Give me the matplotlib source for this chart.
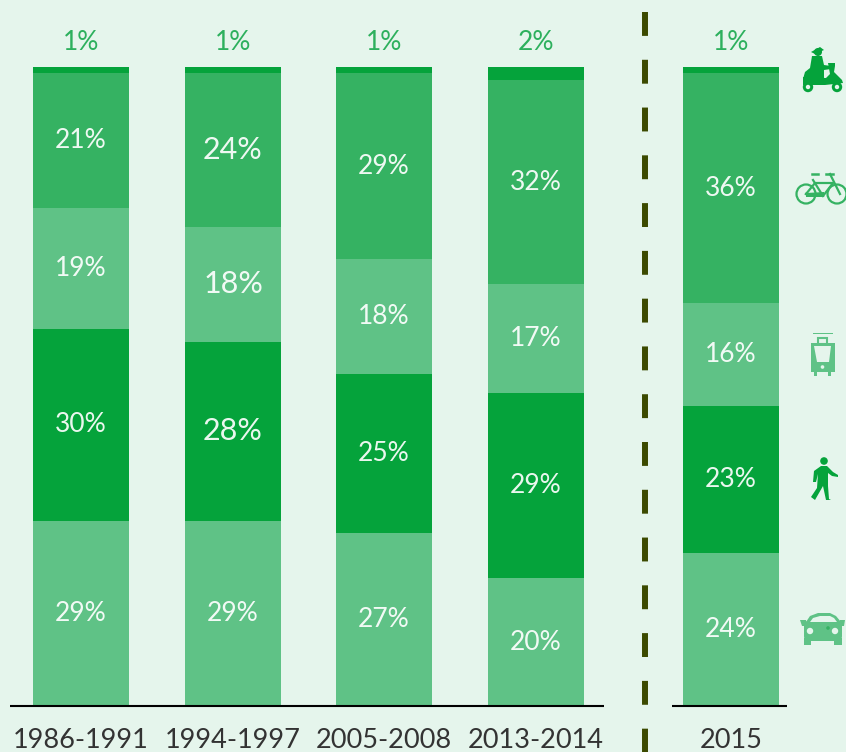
#!/usr/bin/env python3
import matplotlib
matplotlib.use("Agg")
import matplotlib.pyplot as plt
from matplotlib.patches import Circle, Polygon, Rectangle, FancyBboxPatch

periods = ["1986-1991", "1994-1997", "2005-2008", "2013-2014", "2015"]
car = [29, 29, 27, 20, 24]
walk = [30, 28, 25, 29, 23]
transit = [19, 18, 18, 17, 16]
bike = [21, 24, 29, 32, 36]
moto = [1, 1, 1, 2, 1]

series = [car, walk, transit, bike, moto]
colors = ["#5FC286", "#05A33B", "#5FC286", "#35B262", "#05A33B"]
BG = "#E5F5EC"
W, H = 846, 752
centers = [81, 233, 384, 536, 731]

plt.rcParams["font.family"] = ["Lato", "DejaVu Sans"]
fig = plt.figure(figsize=(W / 100, H / 100), dpi=100, facecolor=BG)

# bars: 0-100 maps onto pixel rows 706-67
ax = fig.add_axes([0, (H - 706) / H, 1, 639 / H])
ax.set_xlim(0, W)
ax.set_ylim(0, 100)
ax.axis("off")

bottom = [0] * len(periods)
for vals, col in zip(series, colors):
    ax.bar(centers, vals, width=96, bottom=bottom, color=col, linewidth=0)
    if vals is not moto:
        for i, (x, b, v) in enumerate(zip(centers, bottom, vals)):
            # second column is set larger, except its bottom label
            fs = 22 if i == 1 and vals is not car else 19
            ax.annotate(f"{v}%", (x, b + v / 2), xytext=(0, 0), textcoords="offset pixels",
                        ha="center", va="center", color="white", alpha=0.92, fontsize=fs)
    bottom = [b + v for b, v in zip(bottom, vals)]

for x, v in zip(centers, moto):
    ax.annotate(f"{v}%", (x, 100), xytext=(0, 25), textcoords="offset pixels",
                ha="center", va="center", color="#2DB05D", fontsize=19)

# overlay in image pixels for rules and icons
ov = fig.add_axes([0, 0, 1, 1])
ov.set_xlim(0, W)
ov.set_ylim(H, 0)
ov.axis("off")
ov.patch.set_alpha(0)

ov.plot([10, 604], [706, 706], color="black", lw=1.5, solid_capstyle="butt")
ov.plot([672, 787], [706, 706], color="black", lw=1.5, solid_capstyle="butt")
ov.plot([645, 645], [12, 752], color="#3C4A00", lw=4.3, dashes=(4, 4), dash_capstyle="butt")

for x, lab in zip(centers, periods):
    ov.text(x, 741, lab, ha="center", va="center", color="#333333", fontsize=19.5)


def scooter(c):
    ov.add_patch(Circle((818, 52), 4, color=c, lw=0))
    ov.add_patch(Polygon([(811, 52), (820, 47), (824, 50), (815, 54)], color=c, lw=0))
    ov.add_patch(Polygon([(812, 56), (822, 56), (824, 65), (831, 66), (831, 69), (824, 70), (824, 79),
                          (803, 79), (805, 72), (810, 68)], color=c, lw=0))
    ov.add_patch(Polygon([(828, 63), (835, 63), (835, 66), (834, 72), (842, 80), (843, 83), (825, 85),
                          (803, 85), (803, 77), (826, 78), (830, 74)], color=c, lw=0))
    for x in (808, 837):
        ov.add_patch(Circle((x, 87), 5.2, color=c, lw=0))
        ov.add_patch(Circle((x, 87), 2.2, color=BG, lw=0))


def bicycle(c):
    for x in (806, 837):
        ov.add_patch(Circle((x, 194), 9.5, fill=False, ec=c, lw=1.6))
    ov.plot([806, 815, 833, 823, 806], [194, 183, 183, 196, 194], color=c, lw=1.6)
    ov.plot([813, 823], [180, 196], color=c, lw=1.6)
    ov.plot([830, 840], [174, 194], color=c, lw=1.6)
    ov.plot([812, 818], [174, 174], color=c, lw=1.8)
    ov.plot([826, 833], [174, 174], color=c, lw=1.8)
    ov.add_patch(Polygon([(806, 193), (824, 192), (824, 197), (806, 197)], color=c, lw=0))


def tram(c):
    ov.add_patch(Rectangle((813, 332.5), 20, 1.4, color=c, lw=0))
    ov.add_patch(Rectangle((818, 338), 9, 6, fill=False, ec=c, lw=1.5))
    ov.add_patch(Rectangle((811, 343), 23.5, 29, color=c, lw=0))
    ov.add_patch(Rectangle((814, 372), 3, 4, color=c, lw=0))
    ov.add_patch(Rectangle((828, 372), 3, 4, color=c, lw=0))
    ov.add_patch(Polygon([(814, 346), (831, 346), (829, 362), (817, 362)], color=BG, lw=0))
    ov.add_patch(Circle((822.5, 367), 1.8, color=BG, lw=0))


def walker(c):
    ov.add_patch(Circle((824, 461), 3.8, color=c, lw=0))
    ov.add_patch(Polygon([(821, 466), (827, 466), (833, 472), (838, 475), (838, 477), (832, 476),
                          (828, 473), (828, 486), (829, 499), (831, 500), (826, 500), (823, 486),
                          (815, 500), (811, 497), (817, 488), (818, 474), (816, 482), (813, 482),
                          (814, 471)], color=c, lw=0))


def carr(c):
    ov.add_patch(FancyBboxPatch((804, 621), 38, 20, boxstyle="round,pad=0,rounding_size=5", color=c, lw=0))
    ov.add_patch(Polygon([(800, 620), (806, 620), (807, 626), (802, 626)], color=c, lw=0))
    ov.add_patch(Polygon([(840, 620), (845, 620), (844, 626), (839, 626)], color=c, lw=0))
    ov.add_patch(Polygon([(806, 622), (810, 616), (818, 613), (830, 613), (836, 616), (841, 622)], color=c, lw=0))
    ov.add_patch(Polygon([(810, 622), (813, 618), (820, 616), (830, 616), (834, 618), (837, 622)], color=BG, lw=0))
    ov.add_patch(Rectangle((804, 638), 7, 7, color=c, lw=0))
    ov.add_patch(Rectangle((834, 638), 8, 7, color=c, lw=0))
    for x in (810, 835):
        ov.add_patch(Circle((x, 631), 3.2, color=BG, lw=0))
    ov.add_patch(Circle((828, 628), 1.8, color="#35B262", lw=0))


scooter("#05A33B")
bicycle("#35B262")
tram("#5FC286")
walker("#05A33B")
carr("#5FC286")

fig.savefig("out.png", dpi=100, facecolor=BG)
